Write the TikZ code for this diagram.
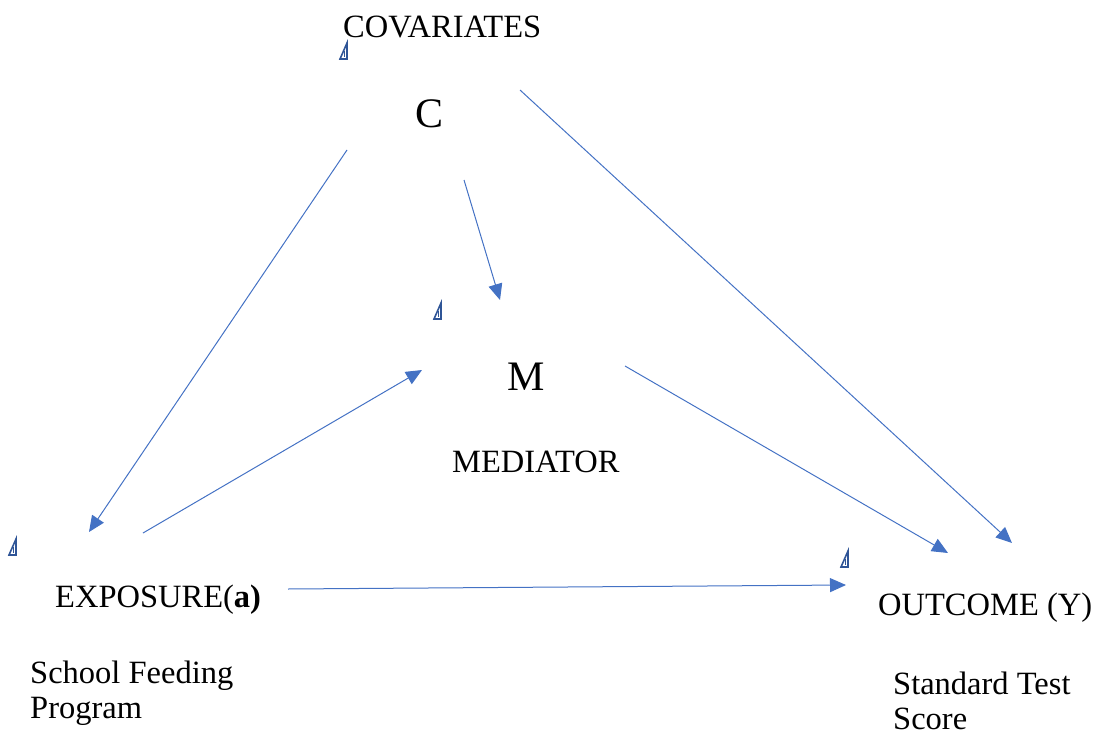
\documentclass[tikz,border=0pt]{standalone}
\usepackage{fontspec}
\setmainfont{Liberation Serif}
\usetikzlibrary{arrows.meta}
\definecolor{arrowblue}{HTML}{4472C4}
\definecolor{anchorblue}{HTML}{2F5597}
\tikzset{
  lbl/.style={inner sep=0pt, font=\fontsize{32.5}{35}\selectfont},
  big/.style={inner sep=0pt, font=\fontsize{42}{46}\selectfont},
  link/.style={draw=arrowblue, line width=1pt, -{Triangle[length=16pt,width=14pt]}},
  anchormark/.style={draw=anchorblue, line width=1.6pt, line join=miter}
}
\begin{document}
\begin{tikzpicture}[x=1pt,y=-1pt]
\useasboundingbox (0,0) rectangle (1093,736);
% text nodes
\node[lbl, anchor=base west] (cov) at (343,37) {COVARIATES};
\node[big, anchor=base] (c) at (430,127) {C};
\node[big, anchor=base] (m) at (526,390) {M};
\node[lbl, anchor=base west] (med) at (452,472) {MEDIATOR};
\node[lbl, anchor=base west] (exp) at (55,607) {EXPOSURE(\textbf{a)}};
\node[lbl, anchor=north west, align=left] (sfp) at (30,661) {School Feeding\\Program};
\node[lbl, anchor=base west] (out) at (878,615) {OUTCOME (Y)};
\node[lbl, anchor=north west, align=left] (std) at (893,672) {Standard Test\\Score};
% connector end points
\coordinate (cA) at (347,150);
\coordinate (eA) at (89,532);
\coordinate (cB) at (464,180);
\coordinate (mB) at (500,300);
\coordinate (cC) at (520,90);
\coordinate (yC) at (1012,543);
\coordinate (eD) at (143,533);
\coordinate (mD) at (422,370);
\coordinate (mE) at (625,366);
\coordinate (yE) at (948,553);
\coordinate (eF) at (288,589);
\coordinate (yF) at (846,585);
% connectors
\draw[link] (cA) -- (eA);
\draw[link] (cB) -- (mB);
\draw[link] (cC) -- (yC);
\draw[link] (eD) -- (mD);
\draw[link] (mE) -- (yE);
\draw[link] (eF) -- (yF);
% anchor marks
\foreach \ax/\ay in {340/43, 434/303, 9/539, 841/551}{
  \draw[anchormark] (\ax,\ay+16) -- (\ax+7,\ay) -- (\ax+7,\ay+16) -- cycle;
  \draw[anchorblue, line width=1pt] (\ax+4.5,\ay+8) -- (\ax+4.5,\ay+14);
}
\end{tikzpicture}
\end{document}
